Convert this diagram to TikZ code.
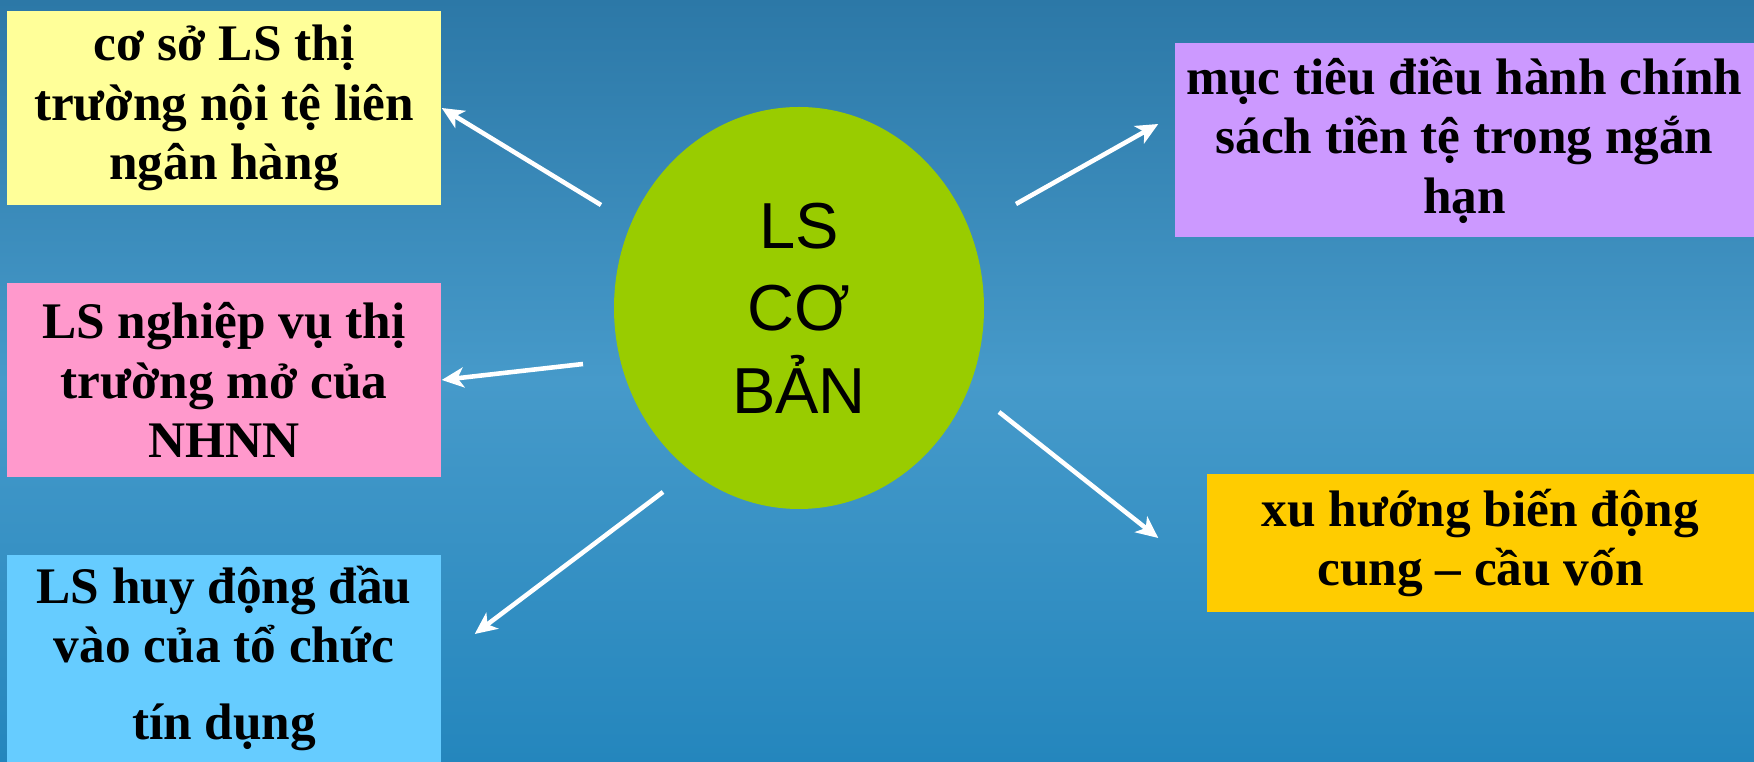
\documentclass[tikz,border=0pt]{standalone}
\usepackage{fontspec}
\setmainfont{Liberation Serif}
\newfontfamily\corefont{Liberation Sans}
\usepackage{xcolor}
\usetikzlibrary{arrows.meta,shapes.geometric}
\definecolor{bgtop}{RGB}{44,120,167}
\definecolor{bgmid}{RGB}{70,154,202}
\definecolor{bgbot}{RGB}{36,134,189}
\definecolor{boxyellow}{RGB}{255,255,153}
\definecolor{boxpink}{RGB}{255,153,204}
\definecolor{boxblue}{RGB}{102,204,255}
\definecolor{boxpurple}{RGB}{204,153,255}
\definecolor{boxorange}{RGB}{255,204,0}
\definecolor{coregreen}{RGB}{153,204,0}
\begin{document}
\begin{tikzpicture}[
		topic/.style={rectangle, inner sep=0pt, align=center, font=\fontsize{14.6}{16.9}\selectfont\bfseries},
		link/.style={white, line width=1.3pt, -{Stealth[length=2.2mm,width=2mm,inset=0.6mm]}}
	]
				\useasboundingbox (0,0) rectangle (17.54,7.62);
				\shade[top color=bgtop, bottom color=bgbot, middle color=bgmid] (0,0) rectangle (17.54,7.62);
				\node[ellipse, fill=coregreen, minimum width=3.7cm, minimum height=4.02cm, inner sep=0pt, align=center, font=\corefont\fontsize{18.5}{23.5}\selectfont] (core) at (7.99,4.54) {LS\\CƠ\\BẢN};
				\node[topic, fill=boxyellow, minimum width=4.34cm, minimum height=1.94cm] (yellow) at (2.24,6.54) {cơ sở LS thị\\trường nội tệ liên\\ngân hàng};
				\node[topic, fill=boxpink, minimum width=4.34cm, minimum height=1.94cm] (pink) at (2.24,3.82) {LS nghiệp vụ thị\\trường mở của\\NHNN};
				\node[topic, fill=boxblue, minimum width=4.34cm, minimum height=2.07cm] (blue) at (2.24,1.035) {LS huy động đầu\\vào của tổ chức\\[5pt]tín dụng};
				\node[topic, fill=boxpurple, minimum width=5.79cm, minimum height=1.94cm] (purple) at (14.645,6.22) {mục tiêu điều hành chính\\sách tiền tệ trong ngắn\\hạn};
				\node[topic, fill=boxorange, minimum width=5.47cm, minimum height=1.38cm] (orange) at (14.805,2.19) {xu hướng biến động\\cung – cầu vốn};
				\coordinate (t1) at ([shift={(-1.98,1.03)}]core.center);
				\coordinate (t2) at ([shift={(-2.16,-0.56)}]core.center);
				\coordinate (t3) at ([shift={(-1.36,-1.84)}]core.center);
				\coordinate (t4) at ([shift={(2.17,1.04)}]core.center);
				\coordinate (t5) at ([shift={(2.00,-1.04)}]core.center);
				\draw[link] (t1) -- (yellow.east);
				\draw[link] (t2) -- (pink.east);
				\draw[link] (t3) -- ([shift={(0.33,0.245)}]blue.east);
				\draw[link] (t4) -- ([shift={(-0.16,0.16)}]purple.west);
				\draw[link] (t5) -- ([shift={(-0.48,0.05)}]orange.west);
			\end{tikzpicture}
\end{document}
